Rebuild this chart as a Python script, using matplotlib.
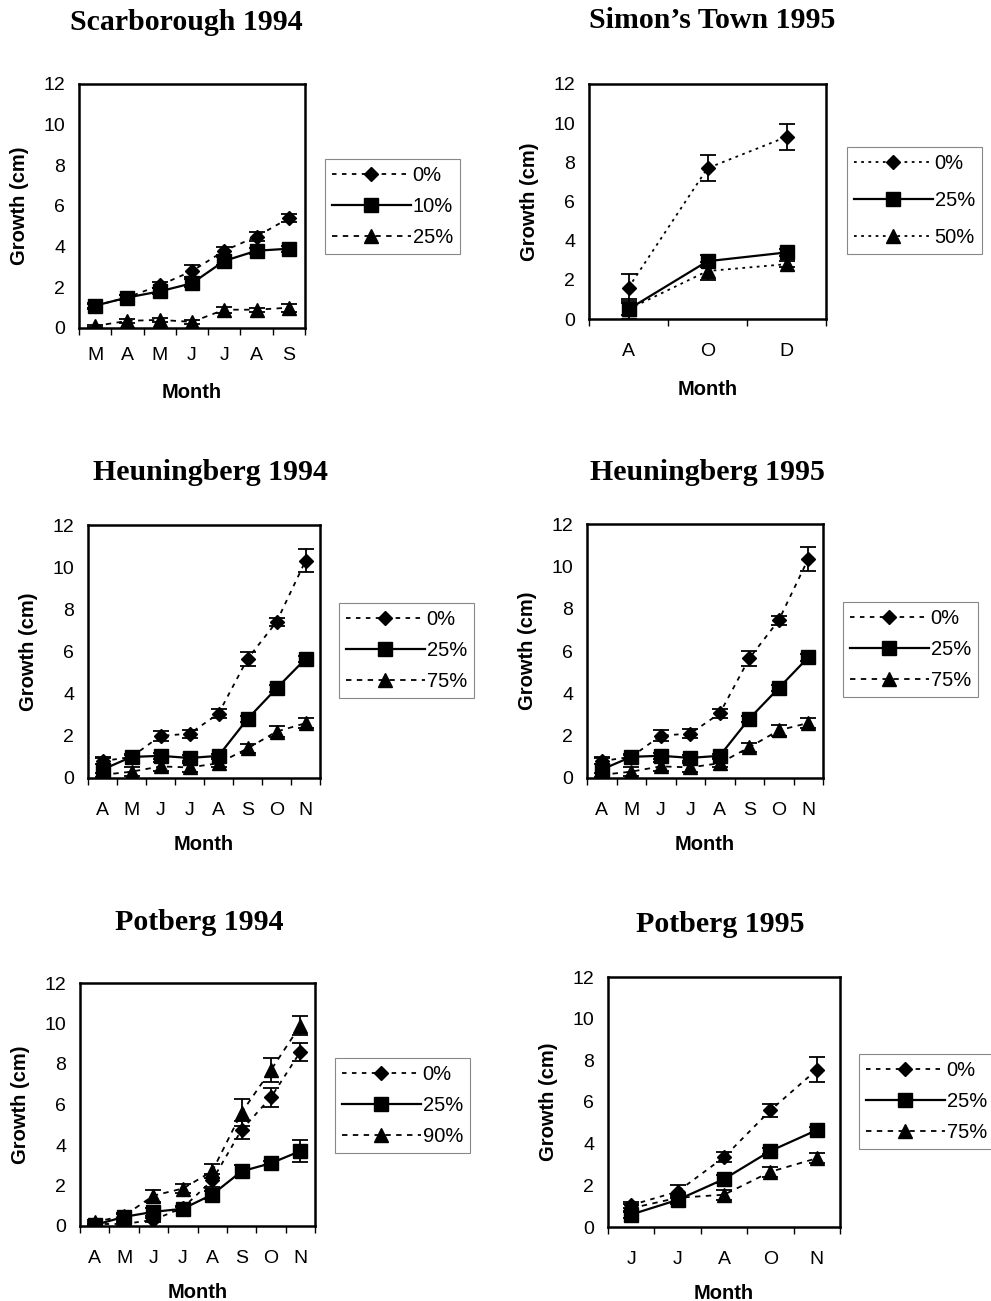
import matplotlib
matplotlib.use("Agg")
import matplotlib.pyplot as plt

plt.rcParams["font.family"] = ["Liberation Sans", "DejaVu Sans"]

W, H = 991, 1301

# ---- data (growth in cm) ----
scar_months = ["M", "A", "M", "J", "J", "A", "S"]
scar_labels = ["0%", "10%", "25%"]
scar_0 = [1.1, 1.5, 2.1, 2.8, 3.8, 4.5, 5.4]
scar_0_err = [0.1, 0.1, 0.15, 0.3, 0.2, 0.2, 0.2]
scar_10 = [1.1, 1.5, 1.8, 2.2, 3.3, 3.8, 3.9]
scar_10_err = [0.15, 0.1, 0.15, 0.2, 0.2, 0.15, 0.15]
scar_25 = [0.1, 0.35, 0.4, 0.3, 0.9, 0.9, 1.0]
scar_25_err = [0.05, 0.1, 0.1, 0.1, 0.15, 0.1, 0.2]

simon_months = ["A", "O", "D"]
simon_labels = ["0%", "25%", "50%"]
simon_0 = [1.6, 7.7, 9.3]
simon_0_err = [0.7, 0.65, 0.65]
simon_25 = [0.5, 2.95, 3.4]
simon_25_err = [0.5, 0.3, 0.2]
simon_50 = [0.5, 2.45, 2.8]
simon_50_err = [0.3, 0.45, 0.15]

heun_months = ["A", "M", "J", "J", "A", "S", "O", "N"]
heun_labels = ["0%", "25%", "75%"]
heun_0 = [0.8, 1.0, 2.0, 2.1, 3.05, 5.65, 7.4, 10.3]
heun_0_err = [0.15, 0.1, 0.25, 0.2, 0.2, 0.35, 0.2, 0.55]
heun_25 = [0.4, 1.0, 1.05, 0.95, 1.05, 2.8, 4.25, 5.65]
heun_25_err = [0.6, 0.15, 0.15, 0.15, 0.1, 0.15, 0.15, 0.15]
heun_75 = [0.15, 0.3, 0.55, 0.5, 0.7, 1.4, 2.2, 2.6]
heun_75_err = [0.1, 0.2, 0.2, 0.2, 0.2, 0.2, 0.25, 0.25]

heun95_0 = [0.8, 1.0, 2.0, 2.1, 3.05, 5.65, 7.45, 10.35]
heun95_0_err = [0.15, 0.1, 0.25, 0.2, 0.2, 0.35, 0.2, 0.55]
heun95_25 = [0.4, 1.0, 1.05, 0.95, 1.05, 2.8, 4.25, 5.7]
heun95_25_err = [0.6, 0.15, 0.15, 0.15, 0.1, 0.15, 0.15, 0.15]
heun95_75 = [0.15, 0.3, 0.55, 0.5, 0.7, 1.45, 2.25, 2.6]
heun95_75_err = [0.1, 0.2, 0.2, 0.2, 0.2, 0.2, 0.25, 0.25]

pot94_months = ["A", "M", "J", "J", "A", "S", "O", "N"]
pot94_labels = ["0%", "25%", "90%"]
pot94_0 = [0.1, 0.1, 0.3, 0.9, 2.25, 4.75, 6.35, 8.6]
pot94_0_err = [0.1, 0.1, 0.1, 0.1, 0.3, 0.45, 0.45, 0.45]
pot94_25 = [0.05, 0.45, 0.7, 0.85, 1.55, 2.7, 3.1, 3.7]
pot94_25_err = [0.05, 0.15, 0.2, 0.1, 0.2, 0.3, 0.1, 0.55]
pot94_90 = [0.2, 0.5, 1.5, 1.85, 2.7, 5.6, 7.7, 9.9]
pot94_90_err = [0.1, 0.15, 0.3, 0.2, 0.35, 0.65, 0.6, 0.45]

pot95_months = ["J", "J", "A", "O", "N"]
pot95_labels = ["0%", "25%", "75%"]
pot95_0 = [1.05, 1.7, 3.35, 5.6, 7.55]
pot95_0_err = [0.15, 0.3, 0.25, 0.3, 0.6]
pot95_25 = [0.6, 1.3, 2.3, 3.65, 4.65]
pot95_25_err = [0.15, 0.2, 0.2, 0.15, 0.15]
pot95_75 = [0.9, 1.4, 1.55, 2.65, 3.3]
pot95_75_err = [0.2, 0.2, 0.25, 0.25, 0.25]


def px_axes(fig, x0, y0, x1, y1):
    return fig.add_axes([x0 / W, 1 - y1 / H, (x1 - x0) / W, (y1 - y0) / H])


def panel(fig, box, legbox, title, title_xy, months, labels, series,
          dotted_third=False, tickpad=17, labelpad=12, legspacing=0.6):
    ax = px_axes(fig, *box)
    x = list(range(len(months)))
    ls_first = (0, (1.5, 2.5)) if dotted_third else (0, (2.5, 3))
    ls_third = (0, (1.5, 2.5)) if dotted_third else (0, (3, 3))
    styles = [
        dict(marker="D", ms=7.5, linestyle=ls_first, lw=1.3),
        dict(marker="s", ms=10.5, linestyle="-", lw=1.6),
        dict(marker="^", ms=10, linestyle=ls_third, lw=1.3),
    ]
    handles = []
    for (y, err), st, lab in zip(series, styles, labels):
        eb = ax.errorbar(x, y, yerr=err, color="black", ecolor="black",
                         elinewidth=1.3, capsize=6, capthick=1.3,
                         label=lab, **st)
        handles.append(eb[0])
    ax.set_xlim(-0.5, len(months) - 0.5)
    ax.set_ylim(0, 12)
    ax.set_yticks(range(0, 13, 2))
    ax.set_xticks([i - 0.5 for i in range(len(months) + 1)])
    ax.set_xticklabels([])
    ax.set_xticks(x, minor=True)
    ax.set_xticklabels(months, minor=True)
    ax.tick_params(axis="x", which="major", direction="out", length=5, width=1)
    ax.tick_params(axis="x", which="minor", length=0, pad=tickpad, labelsize=14)
    ax.tick_params(axis="y", direction="out", length=0, pad=10, labelsize=14)
    for sp in ax.spines.values():
        sp.set_linewidth(1.8)
    ax.set_xlabel("Month", fontweight="bold", fontsize=14.5, labelpad=labelpad)
    ax.set_ylabel("Growth (cm)", fontweight="bold", fontsize=14.5, labelpad=10)
    fig.text(title_xy[0] / W, 1 - title_xy[1] / H, title,
             fontfamily="Liberation Serif", fontweight="bold", fontsize=21.5,
             ha="center", va="center")

    lx0, ly0, lx1, ly1 = legbox
    leg = fig.legend(handles, labels, loc="upper left",
                     bbox_to_anchor=(lx0 / W, 1 - ly0 / H), borderaxespad=0,
                     fontsize=14.5, handlelength=3.9, handletextpad=0.1,
                     labelspacing=legspacing, borderpad=0.35, fancybox=False,
                     edgecolor="#888888", framealpha=1)
    leg.get_frame().set_linewidth(0.8)
    return ax


fig = plt.figure(figsize=(W / 100, H / 100), dpi=100)

panel(fig, (79, 84, 305, 328), (325, 159, 462, 252), "Scarborough 1994", (186, 22),
      scar_months, scar_labels,
      [(scar_0, scar_0_err), (scar_10, scar_10_err), (scar_25, scar_25_err)],
      tickpad=14, labelpad=13.5)

panel(fig, (589, 84, 826, 319), (847, 147, 986, 256), "Simon\u2019s Town 1995", (712, 20),
      simon_months, simon_labels,
      [(simon_0, simon_0_err), (simon_25, simon_25_err), (simon_50, simon_50_err)],
      dotted_third=True, labelpad=15, legspacing=0.9)

panel(fig, (88, 525, 320, 778), (339, 603, 478, 700), "Heuningberg 1994", (210, 472),
      heun_months, heun_labels,
      [(heun_0, heun_0_err), (heun_25, heun_25_err), (heun_75, heun_75_err)])

panel(fig, (587, 524, 823, 778), (843, 602, 982, 699), "Heuningberg 1995", (707, 472),
      heun_months, heun_labels,
      [(heun95_0, heun95_0_err), (heun95_25, heun95_25_err), (heun95_75, heun95_75_err)])

panel(fig, (80, 983, 315, 1226), (335, 1058, 474, 1153), "Potberg 1994", (199, 922),
      pot94_months, pot94_labels,
      [(pot94_0, pot94_0_err), (pot94_25, pot94_25_err), (pot94_90, pot94_90_err)])

panel(fig, (608, 977, 840, 1227), (859, 1054, 991, 1150), "Potberg 1995", (720, 925),
      pot95_months, pot95_labels,
      [(pot95_0, pot95_0_err), (pot95_25, pot95_25_err), (pot95_75, pot95_75_err)])

fig.savefig("out.png", dpi=100)
